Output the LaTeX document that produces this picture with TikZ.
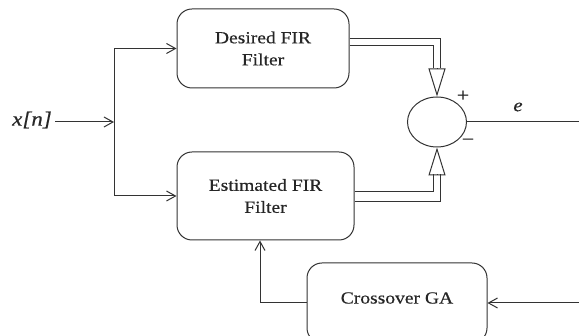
\documentclass[tikz,border=0pt]{standalone}
\usepackage{fontspec}
\setmainfont{Liberation Serif}[FakeStretch=1.15,FakeBold=0.4]
\usetikzlibrary{arrows.meta,shapes.geometric}
\begin{document}
\begin{tikzpicture}[x=1pt,y=-1pt,
  line width=1pt,
  every node/.style={text=black!85},
  box/.style={draw=black!80, rounded corners=15pt, inner sep=0pt, align=center,
    font=\fontsize{17}{22}\selectfont},
  lbl/.style={font=\fontsize{17}{22}\selectfont},
  arr/.style={draw=black!80, -{Straight Barb[length=9pt,width=10pt]}},
  dl/.style={draw=black!80, line width=1pt},
  hollow/.style={draw=black!80, line width=1pt, -{Triangle[open,length=28pt,width=17pt]}}
]
\clip (0,0) rectangle (579,336);
\fill[white] (0,0) rectangle (579,336);

\node[box, minimum width=172pt, minimum height=79pt] (des) at (263,48.5) {Desired FIR\\Filter};
\node[box, minimum width=177pt, minimum height=88pt] (est) at (265.5,196) {Estimated FIR\\Filter};
\node[box, minimum width=180pt, minimum height=80pt] (ga) at (397,303) {};
\node[lbl] (galab) at (397,298) {Crossover GA};
\node[draw=black!80, ellipse, minimum width=59pt, minimum height=50pt, inner sep=0pt] (sum) at (437,122) {};

\node[font=\fontsize{20}{22}\selectfont\itshape, inner sep=0pt] (xn) at (32,120) {x[n]};
\coordinate (j) at (114,122);
\draw[arr] ([xshift=3pt]xn.east |- j) -- (j);
\draw[arr] (j) |- (des.west);
\draw[arr] (j) |- (est.west);

\coordinate (t1) at ([yshift=28pt]sum.north);
\coordinate (t2) at ([yshift=-27pt]sum.south);
\draw[dl] ([yshift=10pt]des.east) -| ([xshift=3.5pt]t1);
\draw[dl] ([yshift=2.5pt]des.east) -| ([xshift=-3.5pt]t1);
\draw[hollow] (t1) -- (sum.north);
\draw[dl] ([yshift=4pt]est.east) -| ([xshift=-3.5pt]t2);
\draw[dl] ([yshift=-6pt]est.east) -| ([xshift=3.5pt]t2);
\draw[hollow] (t2) -- (sum.south);

\coordinate (out) at (579,122);
\draw[draw=black!80] (sum.east) -- (out);
\node[font=\fontsize{19}{20}\selectfont] (plus) at (463,96) {+};
\node[font=\fontsize{19}{20}\selectfont] (minus) at (468,142) {−};
\node[font=\fontsize{18}{22}\selectfont\itshape] (e) at (518,107) {e};

\coordinate (gin) at (579,303);
\draw[arr] (gin) -- (ga.east);
\coordinate (fb) at (260,303);
\draw[arr] (ga.west) -- (fb) -- (fb |- est.south);
\end{tikzpicture}
\end{document}
